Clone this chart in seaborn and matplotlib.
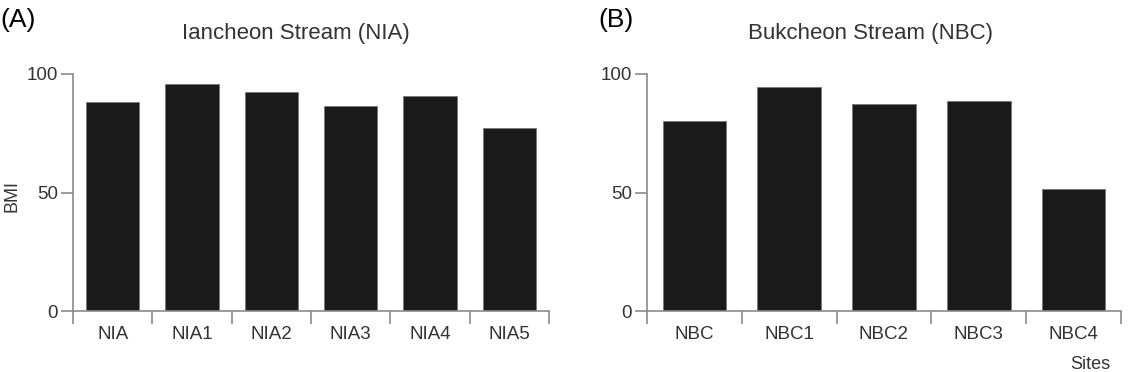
import pandas as pd
import seaborn as sns
import matplotlib.pyplot as plt
from matplotlib.ticker import FixedLocator

# BMI per site
nia_sites = ["NIA", "NIA1", "NIA2", "NIA3", "NIA4", "NIA5"]
nia_bmi = [88.3, 95.8, 92.5, 86.5, 90.8, 77.1]

nbc_sites = ["NBC", "NBC1", "NBC2", "NBC3", "NBC4"]
nbc_bmi = [80.3, 94.5, 87.3, 88.7, 51.3]

sns.set_style("white")
plt.rcParams["font.family"] = ["Liberation Sans", "DejaVu Sans"]

fig = plt.figure(figsize=(11.28, 3.72), dpi=100)
ax1 = fig.add_axes([73 / 1128, 1 - 311 / 372, 476 / 1128, 237 / 372])
ax2 = fig.add_axes([647 / 1128, 1 - 311 / 372, 474 / 1128, 237 / 372])

text_col = "#333333"
spine_col = "#8a8a8a"

for ax, sites, vals in [(ax1, nia_sites, nia_bmi), (ax2, nbc_sites, nbc_bmi)]:
    df = pd.DataFrame({"Site": sites, "BMI": vals})
    sns.barplot(data=df, x="Site", y="BMI", ax=ax, color="#1a1a1a",
                width=0.67, edgecolor="#777777", linewidth=0.6, saturation=1)
    n = len(sites)
    ax.set_xlim(-0.5, n - 0.5)
    ax.set_ylim(0, 100)
    ax.set_yticks([0, 50, 100])
    ax.xaxis.set_minor_locator(FixedLocator([i - 0.5 for i in range(n + 1)]))
    ax.tick_params(axis="x", which="major", bottom=True, length=0, pad=11,
                   labelsize=13.5, labelcolor=text_col)
    ax.tick_params(axis="x", which="minor", bottom=True, length=9, width=1.2,
                   color=spine_col, direction="out")
    ax.tick_params(axis="y", left=True, length=9, width=1.2, color=spine_col,
                   direction="out", labelsize=13.5, labelcolor=text_col, pad=2)
    for s in ["top", "right"]:
        ax.spines[s].set_visible(False)
    for s in ["left", "bottom"]:
        ax.spines[s].set_color(spine_col)
        ax.spines[s].set_linewidth(1.2)
    ax.set_xlabel("")
    ax.set_ylabel("")

fig.text(12 / 1128, 1 - 196 / 372, "BMI", rotation=90, ha="center",
         va="center", fontsize=13, color=text_col)
fig.text(296 / 1128, 1 - 33 / 372, "Iancheon Stream (NIA)", ha="center",
         va="center", fontsize=16, color=text_col)
fig.text(870 / 1128, 1 - 33 / 372, "Bukcheon Stream (NBC)", ha="center",
         va="center", fontsize=16, color=text_col)
fig.text(0, 1 - 20 / 372, "(A)", ha="left", va="center",
         fontsize=19, color="black")
fig.text(598 / 1128, 1 - 20 / 372, "(B)", ha="left", va="center",
         fontsize=19, color="black")
fig.text(1070 / 1128, 1 - 356 / 372, "Sites", ha="left", va="top",
         fontsize=13, color=text_col)

fig.savefig("out.png", dpi=100)
